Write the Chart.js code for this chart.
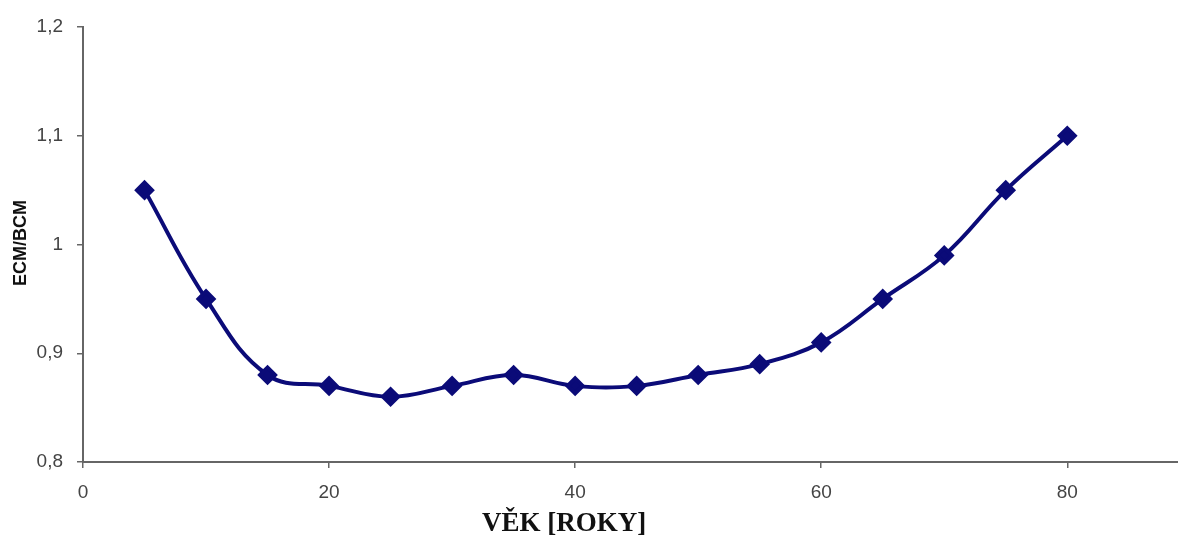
<!DOCTYPE html>
<html>
<head>
<meta charset="utf-8">
<script src="https://cdn.jsdelivr.net/npm/chart.js@4/dist/chart.umd.min.js"></script>
<style>
html,body{margin:0;padding:0;background:#fff;}
#wrap{width:1178px;height:553px;position:relative;}
</style>
</head>
<body>
<div id="wrap"><canvas id="c" width="1178" height="553"></canvas></div>
<script>
const ages = [5, 10, 15, 20, 25, 30, 35, 40, 45, 50, 55, 60, 65, 70, 75, 80];
const ratio = [1.05, 0.95, 0.88, 0.87, 0.86, 0.87, 0.88, 0.87, 0.87, 0.88, 0.89, 0.91, 0.95, 0.99, 1.05, 1.10];
const xTicks = [0, 20, 40, 60, 80];
const yTicks = [0.8, 0.9, 1.0, 1.1, 1.2];
const xTitle = 'VĚK [ROKY]';
const yTitle = 'ECM/BCM';

const fmt = v => String(Math.round(v * 10) / 10).replace('.', ',');

const titlesPlugin = {
  id: 'titles',
  afterDraw(chart) {
    const ctx = chart.ctx;
    ctx.save();
    ctx.fillStyle = '#111';
    ctx.font = 'bold 27px "Liberation Serif", "Times New Roman", serif';
    ctx.textAlign = 'center';
    ctx.textBaseline = 'alphabetic';
    ctx.fillText(xTitle, 564, 531);
    ctx.translate(21, 243);
    ctx.rotate(-Math.PI / 2);
    ctx.font = 'bold 18px "Liberation Sans", Arial, sans-serif';
    ctx.textBaseline = 'middle';
    ctx.fillText(yTitle, 0, 0);
    ctx.restore();
  }
};

new Chart(document.getElementById('c'), {
  type: 'line',
  data: {
    datasets: [{
      data: ages.map((a, i) => ({ x: a, y: ratio[i] })),
      borderColor: '#0b0b78',
      backgroundColor: '#0b0b78',
      borderWidth: 4,
      tension: 0.4,
      pointStyle: 'rectRot',
      pointRadius: 7.5,
      pointHoverRadius: 7.5,
      fill: false
    }]
  },
  options: {
    responsive: false,
    animation: false,
    layout: { autoPadding: false, padding: { top: 27, right: 0, left: 0, bottom: 0 } },
    plugins: { legend: { display: false }, tooltip: { enabled: false } },
    scales: {
      x: {
        type: 'linear',
        min: 0,
        max: 89,
        afterBuildTicks(scale) { scale.ticks = xTicks.map(v => ({ value: v })); },
        afterFit(scale) { scale.height = 91; scale.paddingRight = 0; scale.paddingLeft = 0; },
        grid: { drawOnChartArea: false, drawTicks: true, tickLength: 6, color: '#666', lineWidth: 1.5 },
        border: { display: true, color: '#666', width: 2 },
        ticks: {
          color: '#444',
          padding: 13,
          maxRotation: 0,
          font: { family: '"Liberation Sans", Arial, sans-serif', size: 19 },
          callback: v => String(v)
        }
      },
      y: {
        type: 'linear',
        min: 0.8,
        max: 1.2,
        afterBuildTicks(scale) { scale.ticks = yTicks.map(v => ({ value: v })); },
        afterFit(scale) { scale.width = 83; },
        grid: { drawOnChartArea: false, drawTicks: true, tickLength: 6, color: '#666', lineWidth: 1.5 },
        border: { display: true, color: '#666', width: 2 },
        ticks: {
          color: '#444',
          padding: 14,
          font: { family: '"Liberation Sans", Arial, sans-serif', size: 19 },
          callback: v => fmt(v)
        }
      }
    }
  },
  plugins: [titlesPlugin]
});
</script>
</body>
</html>
